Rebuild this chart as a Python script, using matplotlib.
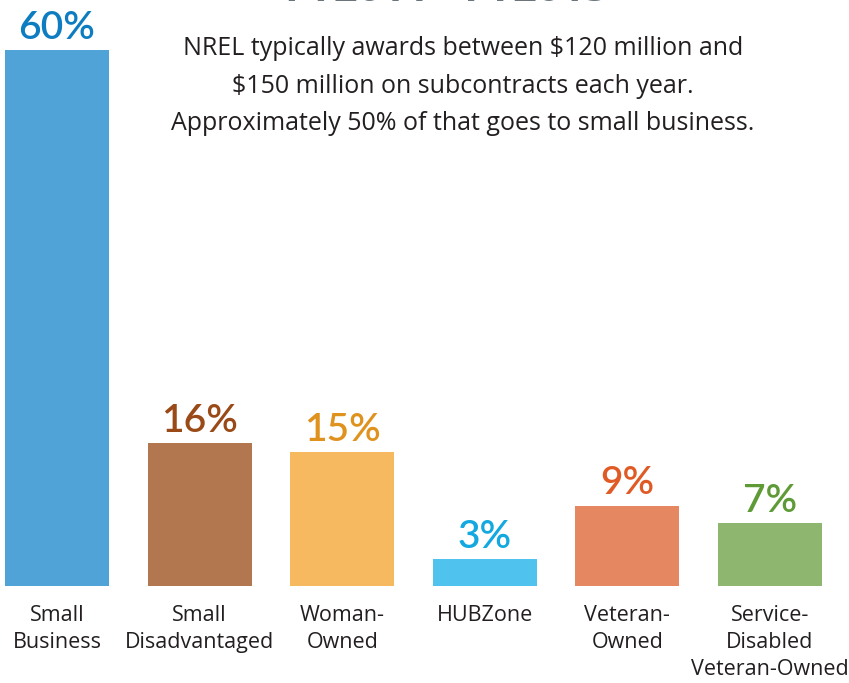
import matplotlib.pyplot as plt

categories = ['Small\nBusiness', 'Small\nDisadvantaged', 'Woman-\nOwned',
              'HUBZone', 'Veteran-\nOwned', 'Service-\nDisabled\nVeteran-Owned']
values = [60, 16, 15, 3, 9, 7]
labels = ['60%', '16%', '15%', '3%', '9%', '7%']
bar_colors = ['#4fa3d6', '#b37750', '#f6b95f', '#4fc3ee', '#e58862', '#8eb66e']
label_colors = ['#0e7cc1', '#9a4a17', '#e0921f', '#13a8e0', '#e05a25', '#5e9b37']

title = 'FY2011 - FY2015'
subtitle = ('NREL typically awards between $120 million and\n'
            '$150 million on subcontracts each year.\n'
            'Approximately 50% of that goes to small business.')

plt.rcParams['font.family'] = ['Open Sans', 'DejaVu Sans']

fig = plt.figure(figsize=(8.49, 6.83), dpi=100)
ax = fig.add_axes([0, 97 / 683, 1, 586 / 683])

x = list(range(len(values)))
ax.bar(x, values, width=0.73, color=bar_colors)
ax.set_xlim(-0.4, 5.554)
ax.set_ylim(0, 65.6)
ax.axis('off')

for xi, v, lab, c in zip(x, values, labels, label_colors):
    ax.annotate(lab, (xi, v), xytext=(0, 3), textcoords='offset points',
                ha='center', va='bottom', fontsize=28, fontweight='semibold',
                color=c, family=['Lato', 'DejaVu Sans'])

for xi, cat in zip(x, categories):
    ax.annotate(cat, (xi, 0), xytext=(0, -14), textcoords='offset points',
                ha='center', va='top', fontsize=15.5, color='#231f20',
                linespacing=1.36)

fig.text(447 / 849, 1 - 1 / 683, title, ha='center', va='baseline',
         fontsize=30, fontweight='bold', color='#6b757b')
fig.text(463 / 849, 1 - 36 / 683, subtitle, ha='center', va='top',
         fontsize=18, color='#231f20', linespacing=1.66)

fig.savefig('out.png', dpi=100)
